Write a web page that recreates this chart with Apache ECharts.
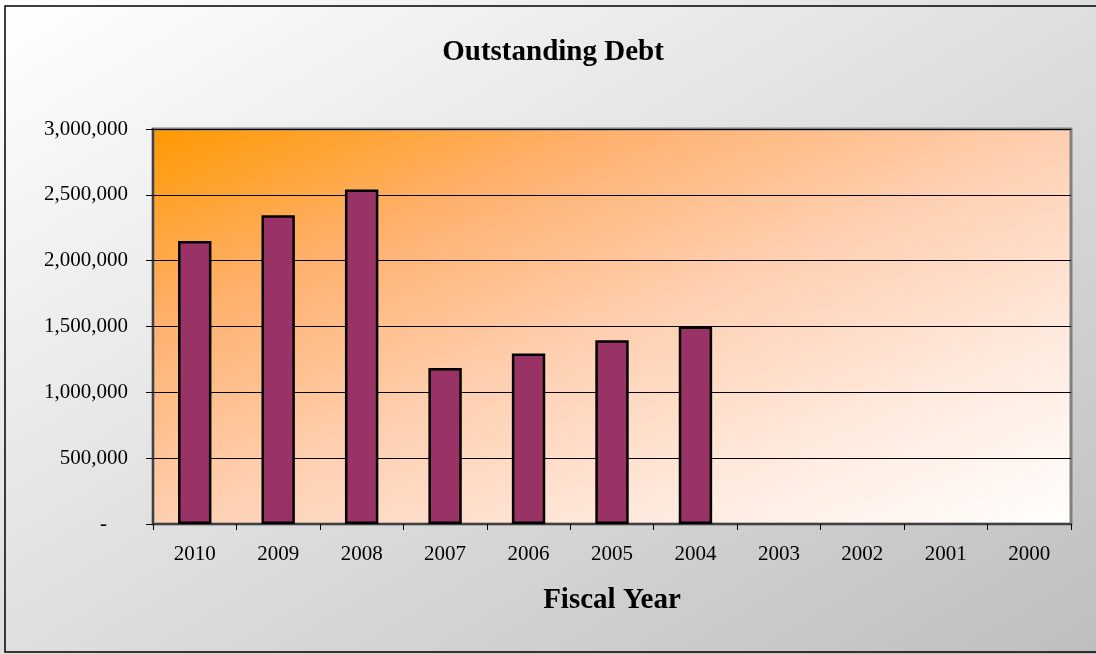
<!DOCTYPE html>
<html>
<head>
<meta charset="utf-8">
<script src="https://cdn.jsdelivr.net/npm/echarts@6/dist/echarts.min.js"></script>
<style>
  html, body { margin: 0; padding: 0; }
  #chart { width: 1096px; height: 654px; }
</style>
</head>
<body>
<div id="chart"></div>
<script>
// Fiscal years, most recent first
const years = ['2010', '2009', '2008', '2007', '2006', '2005', '2004', '2003', '2002', '2001', '2000'];
// Outstanding debt at fiscal year end (no figures reported before 2004)
const debt = [2150000, 2345000, 2540000, 1185000, 1295000, 1395000, 1500000, null, null, null, null];
// Value axis range
const yMin = 0;
const yMax = 3000000;
const yStep = 500000;

const serif = '"Liberation Serif", "Times New Roman", serif';

// Diagonal gradient whose colour bands run parallel to the box's other diagonal
// (top-right and bottom-left corners share a colour), given the box size in px.
function diagonalGradient(w, h, stops) {
  const t = (2 * w * h) / (w * w + h * h);
  return {
    type: 'linear',
    x: 0, y: 0,
    x2: t * h / w,
    y2: t * w / h,
    colorStops: stops
  };
}

const chart = echarts.init(document.getElementById('chart'), null, { renderer: 'canvas' });

chart.setOption({
  animation: false,
  backgroundColor: diagonalGradient(1096, 654, [
    { offset: 0, color: '#ffffff' },
    { offset: 1, color: '#bebebe' }
  ]),
  graphic: [{
    type: 'rect',
    shape: { x: 5, y: 6, width: 1100, height: 646 },
    style: { fill: 'none', stroke: '#000000', lineWidth: 1.5 },
    silent: true
  }],
  title: {
    text: 'Outstanding Debt',
    left: 553,
    textAlign: 'center',
    top: 38,
    padding: 0,
    textStyle: { fontFamily: serif, fontSize: 29, fontWeight: 'bold', color: '#000000' }
  },
  grid: {
    left: 153, right: 25, top: 129, bottom: 130,
    show: true,
    borderColor: '#808080',
    borderWidth: 3,
    backgroundColor: diagonalGradient(918, 395, [
      { offset: 0, color: '#ff9900' },
      { offset: 0.25, color: '#ffb06c' },
      { offset: 0.5, color: '#ffcfb0' },
      { offset: 0.75, color: '#ffe9dd' },
      { offset: 1, color: '#ffffff' }
    ])
  },
  xAxis: {
    type: 'category',
    data: years,
    boundaryGap: true,
    name: 'Fiscal Year',
    nameLocation: 'middle',
    nameGap: 62,
    nameTextStyle: { fontFamily: serif, fontSize: 29, fontWeight: 'bold', color: '#000000' },
    axisLine: { show: true, lineStyle: { color: '#404040', width: 2 } },
    axisTick: { show: true, alignWithLabel: false, length: 6, lineStyle: { color: '#000000', width: 1 } },
    axisLabel: { fontFamily: serif, fontSize: 21, color: '#000000', margin: 20 },
    splitLine: { show: false }
  },
  yAxis: {
    type: 'value',
    min: yMin,
    max: yMax,
    interval: yStep,
    axisLine: { show: true, lineStyle: { color: '#404040', width: 2 } },
    axisTick: { show: true, length: 7, lineStyle: { color: '#000000', width: 1 } },
    axisLabel: {
      fontFamily: serif, fontSize: 21, color: '#000000', margin: 25,
      formatter: function (v) {
        return v === 0 ? '{z|-}' : v.toLocaleString('en-US');
      },
      rich: { z: { fontFamily: serif, fontSize: 21, color: '#000000', padding: [0, 21, 0, 0] } }
    },
    splitLine: { show: true, lineStyle: { color: '#000000', width: 1 } }
  },
  series: [{
    type: 'bar',
    data: debt,
    barWidth: '40%',
    itemStyle: { color: '#993366', borderColor: '#000000', borderWidth: 2.5 }
  }]
});
</script>
</body>
</html>
